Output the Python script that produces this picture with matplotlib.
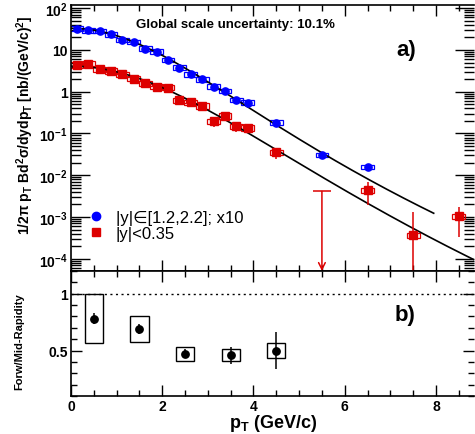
import numpy as np
import matplotlib
matplotlib.use('Agg')
import matplotlib.pyplot as plt
from matplotlib.ticker import FixedLocator, LogLocator, FuncFormatter, MultipleLocator, NullFormatter
from matplotlib.lines import Line2D

plt.rcParams['font.family'] = ['Liberation Sans', 'DejaVu Sans']
plt.rcParams['font.weight'] = 'bold'
plt.rcParams['mathtext.fontset'] = 'custom'
plt.rcParams['mathtext.rm'] = 'Liberation Sans:bold'
plt.rcParams['mathtext.bf'] = 'Liberation Sans:bold'
plt.rcParams['mathtext.it'] = 'Liberation Sans:bold'
plt.rcParams['mathtext.default'] = 'bf'

# forward rapidity |y| in [1.2,2.2], scaled x10
pt_fwd = [0.125, 0.375, 0.625, 0.875, 1.125, 1.375, 1.625, 1.875, 2.125, 2.375,
          2.625, 2.875, 3.125, 3.375, 3.625, 3.875, 4.5, 5.5, 6.5]
y_fwd = [32.5, 29.6, 28.5, 23.8, 17.3, 15.5, 10.8, 9.16, 5.77, 3.79,
         2.62, 1.99, 1.33, 1.04, 0.63, 0.55, 0.183, 0.0303, 0.0159]
yerr_fwd = [1.0, 0.9, 0.8, 0.7, 0.5, 0.45, 0.35, 0.3, 0.2, 0.14,
            0.1, 0.08, 0.06, 0.05, 0.035, 0.03, 0.012, 0.003, 0.002]

# mid rapidity |y|<0.35
pt_mid = [0.125, 0.375, 0.625, 0.875, 1.125, 1.375, 1.625, 1.875, 2.125, 2.375,
          2.625, 2.875, 3.125, 3.375, 3.625, 3.875, 4.5, 6.5, 7.5, 8.5]
y_mid = [4.37, 4.73, 3.45, 3.15, 2.62, 2.07, 1.60, 1.33, 1.26, 0.626,
         0.552, 0.457, 0.194, 0.264, 0.150, 0.138, 0.0351, 0.0044, 3.7e-4, 1.03e-3]
yerr_mid = [0.25, 0.25, 0.2, 0.17, 0.14, 0.12, 0.1, 0.09, 0.09, 0.07,
            0.06, 0.06, 0.05, 0.05, 0.04, 0.035, 0.011, 0.0025, 9.2e-4, 7e-4]
# upper limit point
pt_lim = 5.5
y_lim = 4.1e-3

syst_fwd = 0.12
syst_mid = 0.15

# fit curves  A*(1+(pt/p0)^2)^-n
fit_fwd = dict(A=33.0, p0=3.76, n=6.0, pmax=7.95)
fit_mid = dict(A=4.1, p0=4.66, n=7.0, pmax=9.0)

# forward / mid ratio
pt_ratio = [0.5, 1.5, 2.5, 3.5, 4.5]
ratio = [0.779, 0.691, 0.47, 0.459, 0.50]
ratio_stat = [0.047, 0.044, 0.04, 0.074, 0.165]
ratio_syst = [0.217, 0.115, 0.06, 0.055, 0.062]

blue = '#0000ff'
red = '#dd0000'

fig = plt.figure(figsize=(4.75, 4.35), dpi=100)
ax1 = fig.add_axes([0.1495, 0.3747, 0.849, 0.6115])
ax2 = fig.add_axes([0.1495, 0.0874, 0.849, 0.2873], sharex=ax1)

# ---- top panel ----
ax1.set_yscale('log')
ax1.bar(pt_fwd, 2 * syst_fwd * np.array(y_fwd), bottom=np.array(y_fwd) * (1 - syst_fwd),
        width=0.28, fill=False, edgecolor=blue, linewidth=0.9, zorder=2)
ax1.bar(pt_mid, 2 * syst_mid * np.array(y_mid), bottom=np.array(y_mid) * (1 - syst_mid),
        width=0.28, fill=False, edgecolor=red, linewidth=0.9, zorder=2)

for f in (fit_fwd, fit_mid):
    xx = np.linspace(0, f['pmax'], 300)
    ax1.plot(xx, f['A'] * (1 + (xx / f['p0']) ** 2) ** (-f['n']), color='black', lw=1.2, zorder=3)

ax1.errorbar(pt_fwd, y_fwd, yerr=yerr_fwd, fmt='o', color=blue, ms=5.2, elinewidth=1.1,
             capsize=0, zorder=4)
ax1.errorbar(pt_mid, y_mid, yerr=yerr_mid, fmt='s', color=red, ms=5.6, elinewidth=1.1,
             capsize=0, zorder=4)

ymin1, ymax1 = 5.1e-5, 119
ax1.annotate('', xy=(pt_lim, ymin1), xytext=(pt_lim, y_lim),
             arrowprops=dict(arrowstyle='->', color=red, lw=1.1, mutation_scale=12,
                             shrinkA=0, shrinkB=0))
ax1.hlines(y_lim, pt_lim - 0.19, pt_lim + 0.19, color=red, lw=1.1)

ax1.set_xlim(0, 8.84)
ax1.set_ylim(ymin1, ymax1)


def logfmt(v, pos):
    e = int(round(np.log10(v)))
    if e == 0:
        return '1'
    if e == 1:
        return '10'
    return r'$10^{%d}$' % e


ax1.yaxis.set_major_locator(LogLocator(base=10, numticks=20))
ax1.yaxis.set_minor_locator(LogLocator(base=10, subs=np.arange(2, 10), numticks=20))
ax1.yaxis.set_major_formatter(FuncFormatter(logfmt))
ax1.yaxis.set_minor_formatter(NullFormatter())
ax1.xaxis.set_major_locator(MultipleLocator(2))
ax1.xaxis.set_minor_locator(MultipleLocator(0.5))
ax1.tick_params(axis='x', labelbottom=False)

ax1.text(0.161, 0.929, 'Global scale uncertainty: 10.1%', transform=ax1.transAxes,
         fontsize=9.5, fontweight='bold', va='center', ha='left')
ax1.text(0.831, 0.831, 'a)', transform=ax1.transAxes, fontsize=16, fontweight='bold',
         va='center', ha='center')

handles = [Line2D([], [], marker='o', color=blue, ls='none', ms=6),
           Line2D([], [], marker='s', color=red, ls='none', ms=6)]
leg = ax1.legend(handles, ['|y|∈[1.2,2.2]; x10', '|y|<0.35'], loc='upper left',
                 bbox_to_anchor=(0.02, 0.26), frameon=False, handlelength=1.0,
                 handletextpad=0.7, labelspacing=0.05, borderpad=0,
                 prop={'size': 12, 'weight': 'normal'})

# ---- bottom panel ----
ax2.bar(pt_ratio, 2 * np.array(ratio_syst), bottom=np.array(ratio) - np.array(ratio_syst),
        width=0.4, fill=False, edgecolor='black', linewidth=1.0, zorder=2)
ax2.errorbar(pt_ratio, ratio, yerr=ratio_stat, fmt='o', color='black', ms=5.3,
             elinewidth=1.1, capsize=0, zorder=4)
ax2.axhline(1.0, color='black', ls=(0, (1.5, 2.5)), lw=1.0)
ax2.set_ylim(0.1, 1.2)
ax2.yaxis.set_major_locator(FixedLocator([0.5, 1.0]))
ax2.yaxis.set_minor_locator(MultipleLocator(0.1))
ax2.yaxis.set_major_formatter(FuncFormatter(lambda v, p: '%g' % v))
ax2.text(0.829, 0.648, 'b)', transform=ax2.transAxes, fontsize=16, fontweight='bold',
         va='center', ha='center')

for ax in (ax1, ax2):
    ax.tick_params(which='both', direction='in', top=True, right=True, labelsize=10,
                   width=1.0, pad=2.5)
    ax.tick_params(which='major', length=8)
    ax.tick_params(which='minor', length=4)
    for s in ax.spines.values():
        s.set_linewidth(1.2)
ax1.tick_params(axis='y', which='major', length=14)
ax1.tick_params(axis='y', which='minor', length=7)
ax2.spines['right'].set_visible(False)
ax1.spines['right'].set_visible(False)

fig.text(0.053, 0.713, '1/2π p$_{T}$ Bd$^{2}$σ/dydp$_{T}$ [nb/(GeV/c)$^{2}$]',
         rotation=90, fontsize=10, fontweight='bold', ha='center', va='center')
fig.text(0.040, 0.214, 'Forw/Mid-Rapidity', rotation=90, fontsize=8, fontweight='bold',
         ha='center', va='center')
fig.text(0.575, 0.026, 'p$_{T}$ (GeV/c)', fontsize=13, fontweight='bold',
         ha='center', va='center')

fig.savefig('out.png', dpi=100)
